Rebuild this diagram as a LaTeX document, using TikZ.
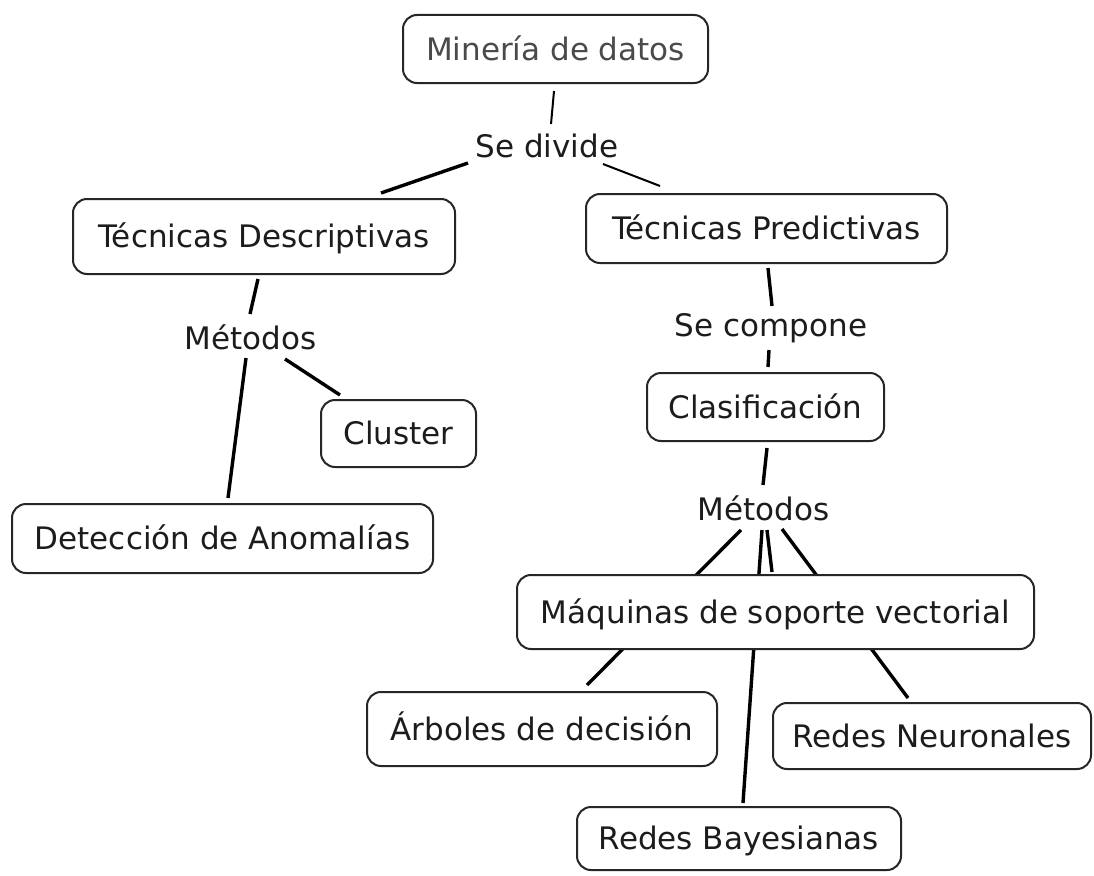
\documentclass[tikz,border=0pt]{standalone}
\usepackage{fontspec}
\setmainfont{DejaVu Sans}
\usetikzlibrary{calc,backgrounds}
\definecolor{boxc}{HTML}{262626}
\definecolor{txt}{HTML}{1C1C1C}
\definecolor{mingray}{HTML}{4A4A4A}
\begin{document}
\begin{tikzpicture}[x=1pt,y=-1pt,
  fnt/.style={font=\fontsize{31}{37}\selectfont},
  box/.style={fnt, text height=26pt, text depth=4pt, draw=boxc, line width=2pt,
              rounded corners=14pt, fill=white, inner sep=0pt, outer sep=0pt, text=txt},
  lbl/.style={fnt, text height=22pt, text depth=7pt, inner sep=0pt, outer sep=0pt,
              text=txt, anchor=base},
  link/.style={draw=black, line width=3.4pt},
  thinlink/.style={draw=black, line width=2pt}]
\useasboundingbox (0,0) rectangle (1094,875);

% concept boxes
\node[box, text=mingray, minimum width=305pt, minimum height=68pt] (min) at (555.5,49) {Minería de datos};
\node[box, minimum width=382pt, minimum height=75pt] (td) at (264,236.5) {Técnicas Descriptivas};
\node[box, minimum width=361pt, minimum height=69pt] (tp) at (766.5,228.5) {Técnicas Predictivas};
\node[box, minimum width=155pt, minimum height=67pt] (cl) at (398.5,433.5) {Cluster};
\node[box, minimum width=421pt, minimum height=69pt] (da) at (222.5,538.5) {Detección de Anomalías};
\node[box, minimum width=237pt, minimum height=68pt] (clas) at (765.5,407) {Clasificación};
\node[box, minimum width=517pt, minimum height=74pt] (maq) at (775.5,612) {Máquinas de soporte vectorial};
\node[box, minimum width=350pt, minimum height=74pt] (arb) at (542,729) {Árboles de decisión};
\node[box, minimum width=324pt, minimum height=63pt] (bay) at (739,838.5) {Redes Bayesianas};
\node[box, minimum width=318pt, minimum height=66pt] (neu) at (932,736) {Redes Neuronales};

% linking phrases
\node[lbl] (sedivide) at (547,157) {Se divide};
\node[lbl] (met1) at (250.5,349) {Métodos};
\node[lbl] (secomp) at (771,336) {Se compone};
\node[lbl] (met2) at (763.5,520) {Métodos};

\begin{pgfonlayer}{background}
\fill[white] (0,0) rectangle (1094,875);
\draw[thinlink] ($(min)+(-1.5,42)$) -- ($(sedivide)+(4,-25.5)$);
\draw[link] ($(sedivide)+(-79,13.5)$) -- ($(td)+(117,-43.5)$);
\draw[thinlink] ($(sedivide)+(56,14.5)$) -- ($(tp)+(-106.5,-42.5)$);
\draw[link] ($(td)+(-6,42.5)$) -- ($(met1)+(-0.5,-27.5)$);
\draw[link] ($(met1)+(-4.5,16.5)$) -- ($(da)+(5.5,-40.5)$);
\draw[link] ($(met1)+(34.5,17.5)$) -- ($(cl)+(-58.5,-38.5)$);
\draw[link] ($(tp)+(1.5,39.5)$) -- ($(secomp)+(1,-22.5)$);
\draw[link] ($(secomp)+(-2,21.5)$) -- ($(clas)+(2.5,-40)$);
\draw[link] ($(clas)+(1.5,41)$) -- ($(met2)+(-0.5,-27.5)$);
\draw[link] ($(met2)+(3.5,17.5)$) -- ($(maq)+(-3.5,-40)$);
\draw[link] ($(met2)+(-22.5,17.5)$) -- ($(arb)+(45,-44)$);
\draw[link] ($(met2)+(-1.5,17.5)$) -- ($(bay)+(4,-35.5)$);
\draw[link] ($(met2)+(18.5,16.5)$) -- ($(neu)+(-24,-38)$);
\end{pgfonlayer}
\end{tikzpicture}
\end{document}
